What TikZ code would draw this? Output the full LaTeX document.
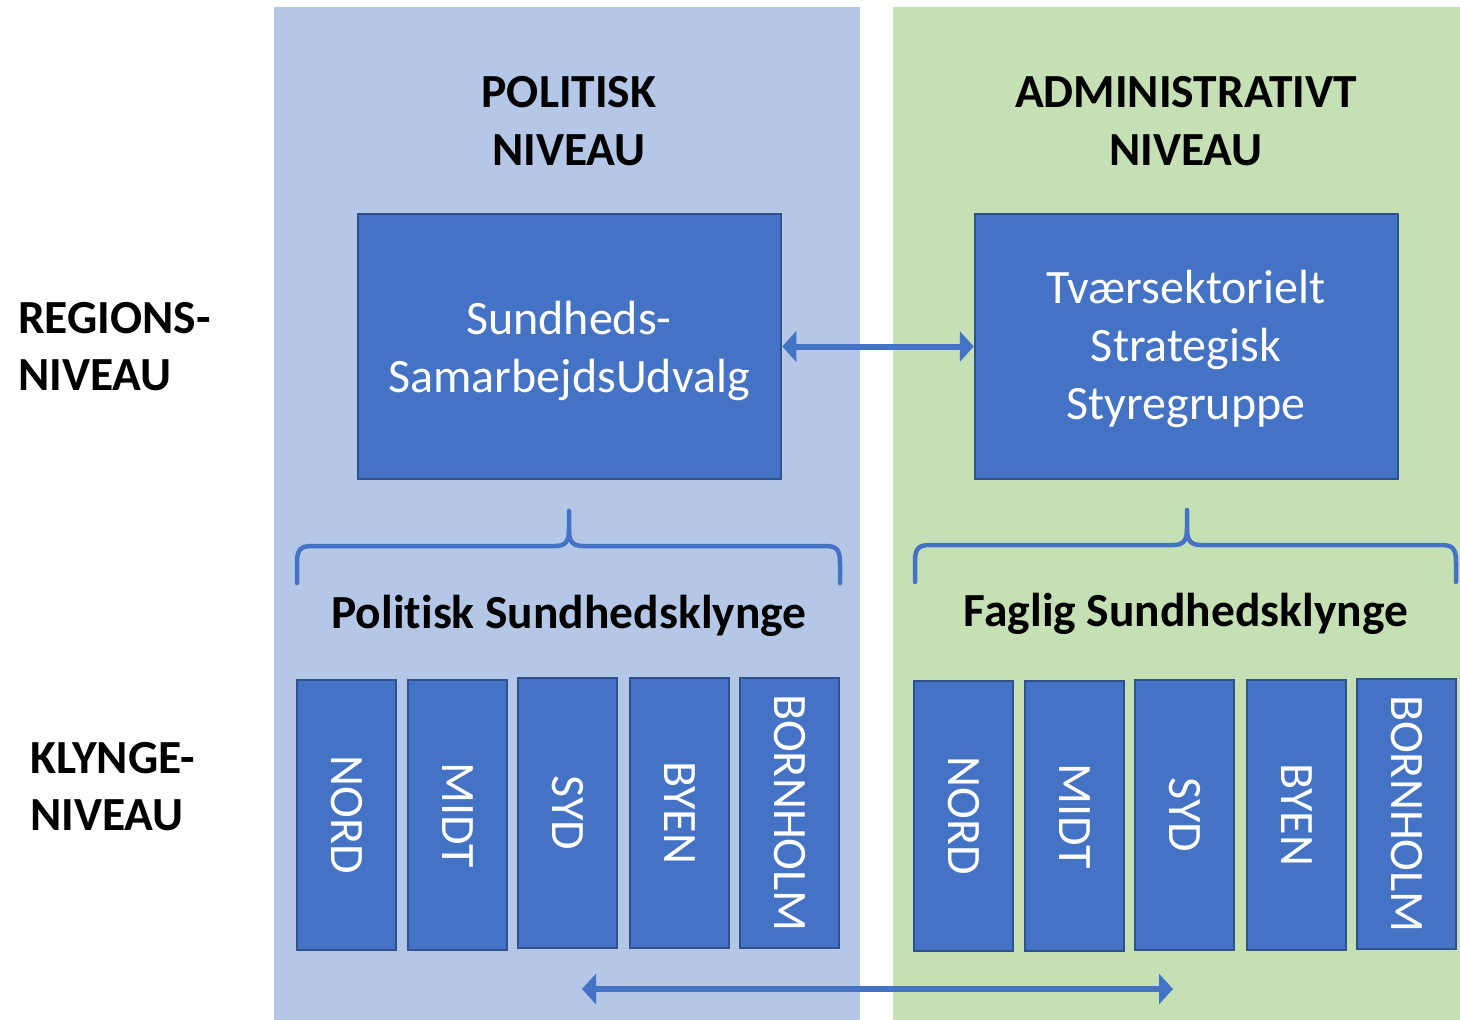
\documentclass[tikz,border=0pt]{standalone}
\usepackage{fontspec}
\setmainfont{Carlito}[Ligatures=NoCommon]
\usetikzlibrary{arrows.meta}
\definecolor{panelblue}{HTML}{B4C7E7}
\definecolor{panelgreen}{HTML}{C5E0B4}
\definecolor{boxfill}{HTML}{4472C4}
\definecolor{boxline}{HTML}{2F528F}
\tikzset{
  bigbox/.style={draw=boxline, fill=boxfill, line width=2.5pt},
  clbox/.style={draw=boxline, fill=boxfill, line width=2.5pt, minimum width=99pt, minimum height=270pt},
  boxtxt/.style={text=white, font=\fontsize{48}{58}\selectfont, align=center, anchor=base},
  vtxt/.style={text=white, font=\fontsize{48}{50}\selectfont, rotate=-90, inner sep=0pt},
  title/.style={font=\bfseries\fontsize{47.5}{58}\selectfont, align=center, anchor=base},
  side/.style={font=\bfseries\fontsize{47.5}{57}\selectfont, align=left, anchor=base west, inner sep=0pt},
  cltitle/.style={font=\bfseries\fontsize{47.5}{50}\selectfont, anchor=base},
  brace/.style={draw=boxfill, line width=4.5pt},
  dblarrow/.style={draw=boxfill, line width=6pt, {Triangle[length=14pt,width=30pt]}-{Triangle[length=14pt,width=30pt]}}
}
\begin{document}
\begin{tikzpicture}[x=1pt,y=-1pt]
\useasboundingbox (0,0) rectangle (1460,1020);
% panels
\fill[panelblue] (274,7) rectangle (860,1020);
\fill[panelgreen] (893,7) rectangle (1460,1020);

% titles (base = last line baseline)
\node[title] (tpol) at (569,165) {POLITISK\\NIVEAU};
\node[title] (tadm) at (1186,165) {ADMINISTRATIVT\\NIVEAU};

% side labels
\node[side] (lreg) at (18,390) {REGIONS-\\NIVEAU};
\node[side] (lkly) at (30,830) {KLYNGE-\\NIVEAU};

% top boxes
\node[bigbox, minimum width=423pt, minimum height=265pt] (sam) at (569.5,346.5) {};
\node[bigbox, minimum width=423pt, minimum height=265pt] (tss) at (1186.5,346.5) {};
\node[boxtxt] (samtxt) at (569,392) {Sundheds-\\SamarbejdsUdvalg};
\node[boxtxt] (tsstxt) at (1186,419) {Tværsektorielt\\Strategisk\\Styregruppe};

\draw[dblarrow] (sam.east) -- (tss.west);

% braces
\draw[brace, line cap=round] (297,583) -- (297,563) .. controls (297,550) and (300,546) .. (312,546) -- (555,546) .. controls (565,546) and (569,542) .. (569,530) -- (569,511);
\draw[brace, line cap=round] (840,583) -- (840,563) .. controls (840,550) and (837,546) .. (825,546) -- (583,546) .. controls (573,546) and (569,542) .. (569,530);
\draw[brace, line cap=round] (915,582) -- (915,562) .. controls (915,549) and (918,545) .. (930,545) -- (1173,545) .. controls (1183,545) and (1187,541) .. (1187,529) -- (1187,510);
\draw[brace, line cap=round] (1456,582) -- (1456,562) .. controls (1456,549) and (1453,545) .. (1441,545) -- (1201,545) .. controls (1191,545) and (1187,541) .. (1187,529);

% cluster titles
\node[cltitle] (pst) at (569,628) {Politisk Sundhedsklynge};
\node[cltitle] (fst) at (1186,626) {Faglig Sundhedsklynge};

% left cluster boxes
\node[clbox] (pn) at (346.5,815) {};
\node[clbox] (pm) at (457.5,815) {};
\node[clbox] (ps) at (567.5,813) {};
\node[clbox] (pb) at (679.5,813) {};
\node[clbox] (pbo) at (789.5,813) {};
\node[vtxt] (pnt) at (pn) {NORD};
\node[vtxt] (pmt) at (pm) {MIDT};
\node[vtxt] (pst2) at (ps) {SYD};
\node[vtxt] (pbt) at (pb) {BYEN};
\node[vtxt] (pbot) at (pbo) {BORNHOLM};

% right cluster boxes
\node[clbox] (fn) at (963.5,816) {};
\node[clbox] (fm) at (1074.5,816) {};
\node[clbox] (fs) at (1184.5,815) {};
\node[clbox] (fb) at (1296.5,815) {};
\node[clbox] (fbo) at (1406.5,814) {};
\node[vtxt] (fnt) at (fn) {NORD};
\node[vtxt] (fmt) at (fm) {MIDT};
\node[vtxt] (fst2) at (fs) {SYD};
\node[vtxt] (fbt) at (fb) {BYEN};
\node[vtxt] (fbot) at (fbo) {BORNHOLM};

% bottom arrow
\coordinate (bl) at (582,989);
\coordinate (br) at (1173,989);
\draw[dblarrow] (bl) -- (br);
\end{tikzpicture}
\end{document}
